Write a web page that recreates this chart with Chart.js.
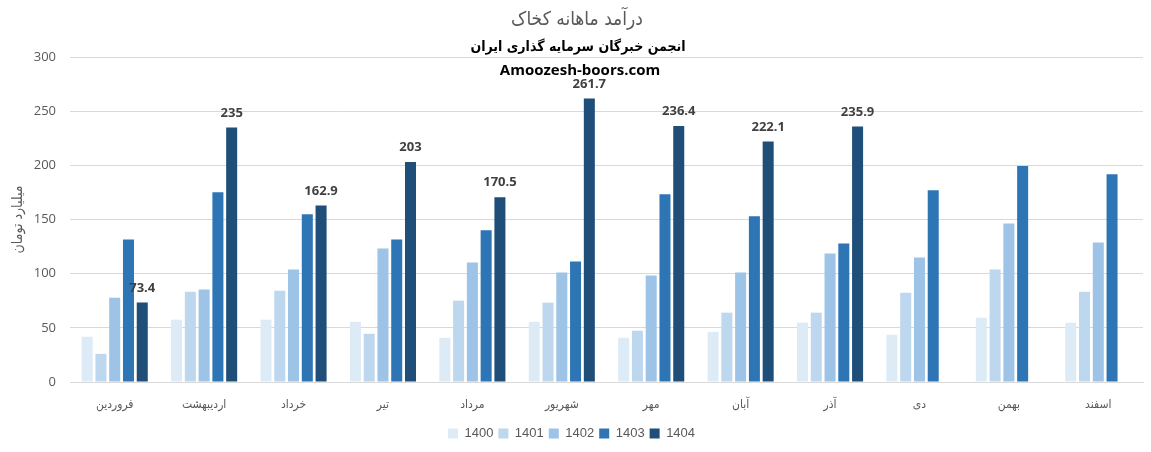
<!DOCTYPE html>
<html>
<head>
<meta charset="utf-8">
<script src="https://cdn.jsdelivr.net/npm/chart.js@4"></script>
<style>
  html, body { margin: 0; padding: 0; background: #fff; }
  #wrap { width: 1151px; height: 452px; }
</style>
</head>
<body>
<div id="wrap"><canvas id="c"></canvas></div>
<script>
// ماه‌ها و درآمد سالانه (میلیارد تومان)
var months = ['فروردین', 'اردیبهشت', 'خرداد', 'تیر', 'مرداد', 'شهریور', 'مهر', 'آبان', 'آذر', 'دی', 'بهمن', 'اسفند'];
var years = ['1400', '1401', '1402', '1403', '1404'];
var y1400 = [41.7, 57.5, 57.5, 55.6, 40.8, 55.6, 40.8, 46.3, 54.7, 43.6, 59.3, 54.7];
var y1401 = [26, 83.4, 84.3, 44.5, 75.1, 73.2, 47.3, 64, 64, 82.5, 103.8, 83.4];
var y1402 = [77.8, 85.3, 103.8, 123.3, 110.3, 101, 98.2, 101, 118.6, 114.9, 146.4, 128.8];
var y1403 = [131.6, 175.2, 154.8, 131.6, 140, 111.2, 173.3, 152.9, 127.9, 177, 199.3, 191.8];
var y1404 = [73.4, 235, 162.9, 203, 170.5, 261.7, 236.4, 222.1, 235.9, null, null, null];
var yTicks = [0, 50, 100, 150, 200, 250, 300];
var colors = ['#DDEBF7', '#BDD7EE', '#9DC3E6', '#2E75B6', '#1F4E79'];

var textGray = '#595959';

// عنوان‌ها روی نمودار
var titlePlugin = {
    id: 'titles',
    afterDraw: function(chart) {
        var ctx = chart.ctx;
        ctx.save();
        ctx.textAlign = 'center';
        ctx.textBaseline = 'middle';
        ctx.fillStyle = textGray;
        ctx.font = '19px "DejaVu Sans Condensed", "DejaVu Sans"';
        ctx.fillText('درآمد ماهانه کخاک', 577, 20);
        ctx.fillStyle = '#000';
        ctx.font = 'bold 14px "DejaVu Sans Condensed", "DejaVu Sans"';
        ctx.fillText('انجمن خبرگان سرمایه گذاری ایران', 578, 47);
        ctx.font = 'bold 15px "Open Sans", "Liberation Sans"';
        ctx.fillText('Amoozesh-boors.com', 580, 71);
        ctx.restore();
    }
};

// برچسب مقدار روی ستون‌های ۱۴۰۴
var labelPlugin = {
    id: 'barLabels',
    afterDatasetsDraw: function(chart) {
        var ctx = chart.ctx;
        var meta = chart.getDatasetMeta(4);
        ctx.save();
        ctx.font = 'bold 13px "Open Sans", "Liberation Sans"';
        ctx.fillStyle = '#404040';
        ctx.textAlign = 'center';
        ctx.textBaseline = 'bottom';
        meta.data.forEach(function(bar, i) {
            var v = y1404[i];
            if (v === null) return;
            ctx.fillText(String(v), bar.x, bar.y - 8);
        });
        ctx.restore();
    }
};

var series = [y1400, y1401, y1402, y1403, y1404];
var datasets = series.map(function(d, i) {
    return {
        label: years[i],
        data: d,
        backgroundColor: colors[i],
        borderWidth: 0,
        barPercentage: 0.8,
        categoryPercentage: 0.77
    };
});

new Chart(document.getElementById('c'), {
    type: 'bar',
    data: { labels: months, datasets: datasets },
    options: {
        responsive: true,
        maintainAspectRatio: false,
        animation: false,
        layout: { padding: { top: 57, right: 8, left: 0, bottom: 2 } },
        plugins: {
            title: { display: false },
            tooltip: { enabled: false },
            legend: {
                position: 'bottom',
                labels: {
                    boxWidth: 10,
                    boxHeight: 10,
                    padding: 5,
                    color: textGray,
                    font: { size: 13, family: '"Liberation Sans Narrow", "Liberation Sans"' }
                }
            }
        },
        scales: {
            x: {
                grid: { display: false },
                border: { display: true, color: '#D9D9D9' },
                ticks: {
                    color: textGray,
                    padding: 8,
                    font: { size: 12, family: '"DejaVu Sans Condensed", "DejaVu Sans"' }
                },
                afterFit: function(s) { s.height = 40; }
            },
            y: {
                min: 0,
                max: 300,
                afterBuildTicks: function(s) { s.ticks = yTicks.map(function(v) { return { value: v }; }); },
                grid: { color: '#D9D9D9', drawTicks: false },
                border: { display: false },
                ticks: {
                    color: textGray,
                    padding: 14,
                    font: { size: 13, family: '"Open Sans", "Liberation Sans"' }
                },
                title: {
                    display: true,
                    text: 'میلیارد تومان',
                    color: textGray,
                    padding: { top: 10, bottom: 0 },
                    font: { size: 14, family: '"DejaVu Sans Condensed", "DejaVu Sans"' }
                },
                afterFit: function(s) { s.width = 70; }
            }
        }
    },
    plugins: [titlePlugin, labelPlugin]
});
</script>
</body>
</html>
